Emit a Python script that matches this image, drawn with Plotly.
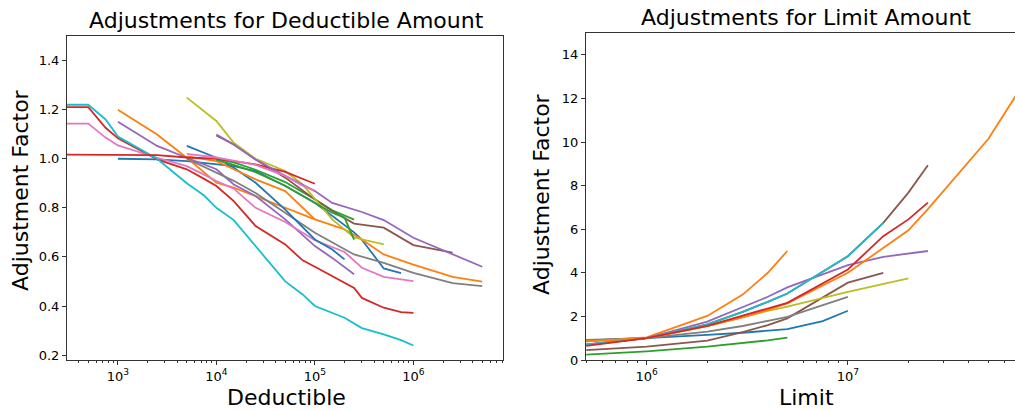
import plotly.graph_objects as go

# ---------------- Deductible data (left panel) ----------------
ded_cyan_x = [250, 500, 750, 1000, 2500, 5000, 7500, 10000, 15000, 50000, 75000, 100000, 200000, 300000, 500000, 750000, 1000000]
ded_cyan_y = [1.22, 1.22, 1.16, 1.09, 1.0, 0.90, 0.85, 0.80, 0.75, 0.50, 0.447, 0.40, 0.352, 0.31, 0.284, 0.261, 0.239]

ded_redA_x = [250, 500, 750, 1000, 2500, 5000, 7500, 10000, 15000, 25000, 50000, 75000, 100000, 200000, 250000, 300000, 500000, 750000, 1000000]
ded_redA_y = [1.21, 1.21, 1.126, 1.083, 0.997, 0.957, 0.918, 0.889, 0.827, 0.726, 0.651, 0.586, 0.560, 0.495, 0.474, 0.433, 0.393, 0.375, 0.372]

ded_pinkA_x = [250, 500, 750, 1000, 2500, 5000, 7500, 10000, 15000, 25000, 50000, 100000, 200000, 300000, 500000, 1000000]
ded_pinkA_y = [1.143, 1.143, 1.086, 1.054, 1.004, 0.970, 0.935, 0.909, 0.878, 0.80, 0.742, 0.668, 0.620, 0.556, 0.519, 0.501]

ded_pinkB_x = [5000, 10000, 25000, 50000, 75000, 100000]
ded_pinkB_y = [1.02, 1.005, 0.975, 0.93, 0.89, 0.87]

ded_redB_x = [250, 1000, 2500, 5000, 10000, 25000, 50000, 100000]
ded_redB_y = [1.017, 1.017, 1.015, 1.005, 1.0, 0.977, 0.946, 0.898]

ded_blueA_x = [1000, 2500, 5000, 10000, 15000, 25000, 50000, 100000, 150000, 250000, 300000, 500000, 750000]
ded_blueA_y = [1.0, 0.997, 0.99, 0.977, 0.97, 0.95, 0.889, 0.821, 0.766, 0.70, 0.67, 0.553, 0.534]

ded_blueB_x = [5000, 10000, 15000, 25000, 50000, 100000, 150000, 200000]
ded_blueB_y = [1.052, 1.004, 0.963, 0.902, 0.793, 0.671, 0.63, 0.59]

ded_orangeA_x = [1000, 2500, 5000, 10000, 15000, 25000, 50000, 100000, 200000, 300000, 500000, 1000000, 2500000, 5000000]
ded_orangeA_y = [1.2, 1.099, 1.004, 0.902, 0.882, 0.848, 0.80, 0.753, 0.712, 0.671, 0.61, 0.569, 0.519, 0.499]

ded_orangeB_x = [5000, 10000, 15000, 25000, 50000, 100000]
ded_orangeB_y = [1.01, 0.99, 0.957, 0.916, 0.868, 0.753]

ded_purpleA_x = [1000, 2500, 5000, 10000, 15000, 25000, 50000, 100000, 150000, 250000]
ded_purpleA_y = [1.151, 1.052, 1.004, 0.957, 0.895, 0.848, 0.753, 0.644, 0.596, 0.529]

ded_purpleB_x = [10000, 15000, 25000, 50000, 100000, 150000, 300000, 500000, 1000000, 2500000, 5000000]
ded_purpleB_y = [1.099, 1.058, 0.997, 0.93, 0.868, 0.82, 0.783, 0.75, 0.678, 0.61, 0.56]

ded_brown_x = [10000, 15000, 25000, 50000, 100000, 150000, 250000, 500000, 1000000, 2500000]
ded_brown_y = [1.095, 1.058, 0.997, 0.923, 0.834, 0.787, 0.736, 0.719, 0.648, 0.617]

ded_olive_x = [5000, 10000, 15000, 25000, 50000, 75000, 150000, 250000, 500000]
ded_olive_y = [1.249, 1.154, 1.065, 1.0, 0.95, 0.895, 0.753, 0.679, 0.651]

ded_greenA_x = [10000, 15000, 25000, 50000, 100000, 150000, 250000]
ded_greenA_y = [0.998, 0.985, 0.955, 0.905, 0.835, 0.79, 0.752]

ded_greenB_x = [10000, 15000, 25000, 50000, 100000, 150000, 200000, 250000]
ded_greenB_y = [0.995, 0.975, 0.945, 0.89, 0.82, 0.78, 0.76, 0.67]

ded_gray_x = [5000, 10000, 15000, 25000, 50000, 100000, 250000, 500000, 1000000, 2500000, 5000000]
ded_gray_y = [1.0, 0.945, 0.91, 0.86, 0.78, 0.698, 0.61, 0.576, 0.535, 0.493, 0.481]

# ---------------- Limit data (right panel) ----------------
lim_blue_x = [500000, 1000000, 2000000, 3000000, 5000000, 7500000, 10000000]
lim_blue_y = [0.9, 1.0, 1.15, 1.25, 1.42, 1.78, 2.26]

lim_orangeA_x = [500000, 1000000, 2000000, 3000000, 4000000, 5000000]
lim_orangeA_y = [0.88, 1.04, 2.02, 3.0, 4.0, 5.0]

lim_green_x = [500000, 1000000, 2000000, 3000000, 4000000, 5000000]
lim_green_y = [0.25, 0.4, 0.61, 0.77, 0.9, 1.03]

lim_red_x = [500000, 1000000, 2000000, 3000000, 4000000, 5000000, 10000000, 15000000, 20000000, 25000000]
lim_red_y = [0.65, 1.0, 1.57, 2.02, 2.34, 2.62, 4.15, 5.68, 6.45, 7.22]

lim_purple_x = [500000, 1000000, 2000000, 3000000, 4000000, 5000000, 10000000, 15000000, 20000000, 25000000]
lim_purple_y = [0.72, 1.0, 1.76, 2.44, 2.9, 3.33, 4.35, 4.73, 4.87, 5.0]

lim_brownA_x = [500000, 1000000, 2000000, 3000000, 4000000, 5000000, 10000000, 15000000, 20000000, 25000000]
lim_brownA_y = [0.7, 1.0, 1.63, 2.21, 2.67, 3.05, 4.76, 6.29, 7.68, 8.93]

lim_gray_x = [500000, 1000000, 2000000, 3000000, 4000000, 5000000, 10000000]
lim_gray_y = [0.92, 1.0, 1.3, 1.56, 1.8, 1.98, 2.9]

lim_olive_x = [500000, 1000000, 2000000, 3000000, 4000000, 5000000, 10000000, 20000000]
lim_olive_y = [0.85, 1.0, 1.55, 1.98, 2.25, 2.45, 3.13, 3.74]

lim_cyan_x = [500000, 1000000, 2000000, 3000000, 4000000, 5000000, 10000000, 15000000]
lim_cyan_y = [0.7, 1.0, 1.63, 2.21, 2.67, 3.05, 4.76, 6.29]

lim_brownB_x = [500000, 1000000, 2000000, 3000000, 4000000, 5000000, 10000000, 15000000]
lim_brownB_y = [0.45, 0.61, 0.89, 1.28, 1.6, 1.91, 3.55, 4.0]

lim_orangeB_x = [500000, 1000000, 2000000, 3000000, 4000000, 5000000, 10000000, 15000000, 20000000, 25000000, 50000000, 75000000]
lim_orangeB_y = [0.85, 1.0, 1.55, 1.95, 2.3, 2.6, 4.0, 5.15, 5.95, 6.92, 10.15, 12.7]

# tick labels
ded_tickvals = [1e3, 1e4, 1e5, 1e6]
ded_ticktext = ["10<sup>3</sup>", "10<sup>4</sup>", "10<sup>5</sup>", "10<sup>6</sup>"]
lim_tickvals = [1e6, 1e7]
lim_ticktext = ["10<sup>6</sup>", "10<sup>7</sup>"]
ded_ytick = [0.2, 0.4, 0.6, 0.8, 1.0, 1.2, 1.4]
lim_ytick = [0, 2, 4, 6, 8, 10, 12, 14]

C = dict(blue="#1f77b4", orange="#ff7f0e", green="#2ca02c", red="#d62728",
         purple="#9467bd", brown="#8c564b", pink="#e377c2", gray="#7f7f7f",
         olive="#bcbd22", cyan="#17becf")

left = [
    (ded_blueA_x, ded_blueA_y, "blue"),
    (ded_orangeA_x, ded_orangeA_y, "orange"),
    (ded_greenA_x, ded_greenA_y, "green"),
    (ded_redA_x, ded_redA_y, "red"),
    (ded_purpleA_x, ded_purpleA_y, "purple"),
    (ded_brown_x, ded_brown_y, "brown"),
    (ded_pinkA_x, ded_pinkA_y, "pink"),
    (ded_gray_x, ded_gray_y, "gray"),
    (ded_olive_x, ded_olive_y, "olive"),
    (ded_cyan_x, ded_cyan_y, "cyan"),
    (ded_blueB_x, ded_blueB_y, "blue"),
    (ded_orangeB_x, ded_orangeB_y, "orange"),
    (ded_greenB_x, ded_greenB_y, "green"),
    (ded_redB_x, ded_redB_y, "red"),
    (ded_purpleB_x, ded_purpleB_y, "purple"),
    (ded_pinkB_x, ded_pinkB_y, "pink"),
]
right = [
    (lim_blue_x, lim_blue_y, "blue"),
    (lim_orangeA_x, lim_orangeA_y, "orange"),
    (lim_green_x, lim_green_y, "green"),
    (lim_brownB_x, lim_brownB_y, "brown"),
    (lim_brownA_x, lim_brownA_y, "brown"),
    (lim_gray_x, lim_gray_y, "gray"),
    (lim_olive_x, lim_olive_y, "olive"),
    (lim_purple_x, lim_purple_y, "purple"),
    (lim_cyan_x, lim_cyan_y, "cyan"),
    (lim_orangeB_x, lim_orangeB_y, "orange"),
    (lim_red_x, lim_red_y, "red"),
]

fig = go.Figure()
for xs, ys, c in left:
    fig.add_trace(go.Scatter(x=xs, y=ys, mode="lines", line=dict(color=C[c], width=1.8),
                             xaxis="x", yaxis="y", showlegend=False, hoverinfo="skip"))
for xs, ys, c in right:
    fig.add_trace(go.Scatter(x=xs, y=ys, mode="lines", line=dict(color=C[c], width=1.8),
                             xaxis="x2", yaxis="y2", showlegend=False, hoverinfo="skip"))

W, H = 1015, 411
font = "DejaVu Sans"

def px(v):
    return v / W

def py(v):
    return 1 - v / H

common_x = dict(type="log", showgrid=False, zeroline=False, showline=True, linecolor="#333",
                linewidth=1, mirror=True, ticks="outside", ticklen=4, tickcolor="#333",
                automargin=False,
                tickfont=dict(family=font, size=13, color="black"),
                minor=dict(ticks="outside", ticklen=2, tickcolor="#333", dtick="D1", showgrid=False))
common_y = dict(showgrid=False, zeroline=False, showline=True, linecolor="#333", linewidth=1,
                ticks="outside", ticklen=4, tickcolor="#333", automargin=False,
                tickfont=dict(family=font, size=13, color="black"))

fig.update_layout(
    width=W, height=H, margin=dict(l=0, r=0, t=0, b=0, autoexpand=False),
    paper_bgcolor="white", plot_bgcolor="white",
    font=dict(family=font, color="black"),
    xaxis=dict(common_x, domain=[px(67), px(503)], range=[2.483, 6.91],
               tickvals=ded_tickvals, ticktext=ded_ticktext, anchor="y"),
    yaxis=dict(common_y, domain=[py(360), py(36)], range=[0.18, 1.5], mirror=True,
               tickvals=ded_ytick, tickformat=".1f", anchor="x"),
    xaxis2=dict(common_x, domain=[px(586), 1.0], range=[5.698, 7.831],
                tickvals=lim_tickvals, ticktext=lim_ticktext, anchor="y2"),
    yaxis2=dict(common_y, domain=[py(360), py(33)], range=[0, 15],
                tickvals=lim_ytick, anchor="x2"),
)

ann = [
    dict(text="Adjustments for Deductible Amount", x=px(286), y=py(20), size=22, angle=0),
    dict(text="Adjustments for Limit Amount", x=px(806), y=py(18), size=22, angle=0),
    dict(text="Deductible", x=px(286), y=py(397), size=22, angle=0),
    dict(text="Limit", x=px(806), y=py(397), size=22, angle=0),
    dict(text="Adjustment Factor", x=px(20), y=py(190), size=22, angle=-90),
    dict(text="Adjustment Factor", x=px(541), y=py(194), size=22, angle=-90),
]
for a in ann:
    fig.add_annotation(text=a["text"], x=a["x"], y=a["y"], xref="paper", yref="paper",
                       showarrow=False, textangle=a["angle"], xanchor="center", yanchor="middle",
                       font=dict(family=font, size=a["size"], color="black"))

fig.write_html("out.html", config={"displayModeBar": False},
               post_script="document.body.style.margin='0';document.body.style.overflow='hidden';")
